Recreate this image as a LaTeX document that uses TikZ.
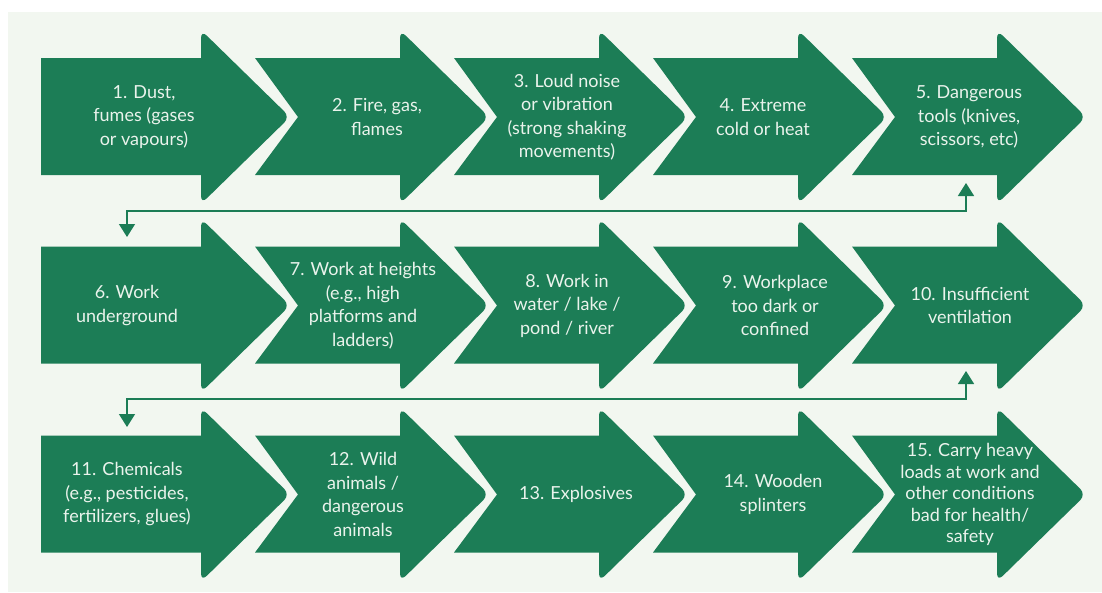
\documentclass[tikz,border=0pt]{standalone}
\usepackage{fontspec}
\setmainfont{Lato}
\usepackage{tikz}
\usetikzlibrary{arrows.meta}
\definecolor{hgreen}{RGB}{28,125,86}
\definecolor{hback}{RGB}{242,247,240}
\definecolor{htext}{RGB}{234,243,236}

\begin{document}
\begin{tikzpicture}[x=1pt, y=-1pt,
    hazard/.style={text=htext, align=center, font=\fontsize{18}{23.5}\selectfont},
    link/.style={draw=hgreen, line width=1.5pt,
      {Triangle[width=16pt,length=13pt]}-{Triangle[width=16pt,length=13pt]}}]
    \useasboundingbox (0,0) rectangle (1102,592);
    \fill[hback] (8,12) rectangle (1102,592);
    \foreach \cy in {117,305.5,494.5} {
      \foreach \k in {0,...,4} {
        \pgfmathsetmacro{\hx}{201+199*\k}
        \pgfmathsetmacro{\bx}{\k==0 ? 41 : 56+199*\k}
        \pgfmathsetmacro{\nx}{\k==0 ? 41 : 99+199*\k}
        \fill[hgreen] (\bx,\cy-59) -- (\hx+2,\cy-59) -- (\hx+2,\cy+58) -- (\bx,\cy+58) -- (\nx,\cy) -- cycle;
        \fill[hgreen, rounded corners=8pt] (\hx,\cy) -- (\hx,\cy-87) -- (\hx+89,\cy) -- (\hx,\cy+87) -- cycle;
      }
    }
    \node[hazard] (t1) at (144,117) {1. Dust,\\fumes (gases\\or vapours)};
    \node[hazard] (t2) at (377,117) {2. Fire, gas,\\flames};
    \node[hazard] (t3) at (567,117) {3. Loud noise\\or vibration\\(strong shaking\\movements)};
    \node[hazard] (t4) at (763,117) {4. Extreme\\cold or heat};
    \node[hazard] (t5) at (969,117) {5. Dangerous\\tools (knives,\\scissors, etc)};
    \node[hazard] (t6) at (127,305.5) {6. Work\\underground};
    \node[hazard] (t7) at (363,305.5) {7. Work at heights\\(e.g., high\\platforms and\\ladders)};
    \node[hazard] (t8) at (567,305.5) {8. Work in\\water / lake /\\pond / river};
    \node[hazard] (t9) at (775,305.5) {9. Workplace\\too dark or\\confined};
    \node[hazard] (t10) at (970,305.5) {10. Insufficient\\ventilation};
    \node[hazard] (t11) at (127,494.5) {11. Chemicals\\(e.g., pesticides,\\fertilizers, glues)};
    \node[hazard] (t12) at (363,494.5) {12. Wild\\animals /\\dangerous\\animals};
    \node[hazard] (t13) at (576,494.5) {13. Explosives};
    \node[hazard] (t14) at (773,494.5) {14. Wooden\\splinters};
    \node[hazard, font=\fontsize{18}{21.5}\selectfont] (t15) at (970,494.5) {15. Carry heavy\\loads at work and\\other conditions\\bad for health/\\safety};
    \coordinate (up5) at (966,183);
    \coordinate (dn6) at (127,237);
    \coordinate (up10) at (966,371);
    \coordinate (dn11) at (127,427);
    \draw[link] (up5) -- ++(0,28) -| (dn6);
    \draw[link] (up10) -- ++(0,28) -| (dn11);
\end{tikzpicture}
\end{document}
